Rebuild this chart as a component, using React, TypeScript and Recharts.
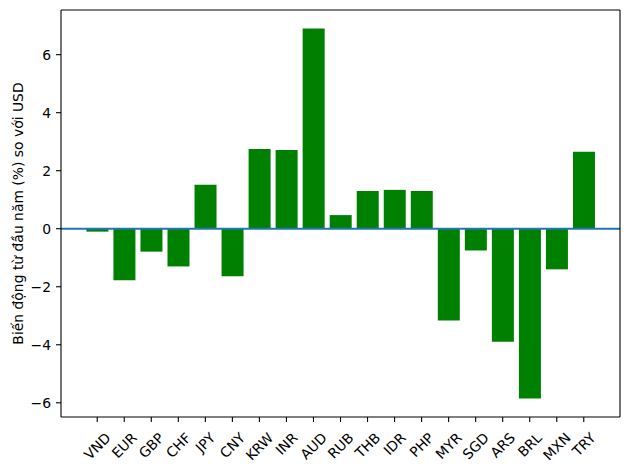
import { Bar, BarChart, Label, ReferenceLine, XAxis, YAxis } from "recharts";

const currencies = ["VND", "EUR", "GBP", "CHF", "JPY", "CNY", "KRW", "INR", "AUD", "RUB", "THB", "IDR", "PHP", "MYR", "SGD", "ARS", "BRL", "MXN", "TRY"];
const ytdChange = [-0.1, -1.78, -0.79, -1.3, 1.52, -1.64, 2.75, 2.71, 6.9, 0.47, 1.3, 1.34, 1.3, -3.16, -0.75, -3.9, -5.85, -1.4, 2.65];
const yTicks = [-6, -4, -2, 0, 2, 4, 6];
const yDomain = [-6.49, 7.54];

const rows = currencies.map((c, i) => ({ name: c, value: ytdChange[i] }));

const FONT = "DejaVu Sans";
const FS = 13.9;
const spine = { stroke: "#000", strokeWidth: 1.1 };

let ctx: CanvasRenderingContext2D | null = null;
function textWidth(s: string): number {
  if (!ctx) ctx = document.createElement("canvas").getContext("2d");
  if (!ctx) return s.length * FS * 0.7;
  ctx.font = `${FS}px "${FONT}"`;
  return ctx.measureText(s).width;
}

// matplotlib-style rotation=45, centred on the tick
function RotatedTick(props: any) {
  const { x, y, payload } = props;
  const label = String(payload.value);
  const w = textWidth(label);
  const h = FS * 1.16;
  const boxH = (w + h) * Math.SQRT1_2;
  const cx = x;
  const cy = y + 7.5 + boxH / 2;
  return (
    <text
      x={cx}
      y={cy}
      textAnchor="middle"
      dominantBaseline="central"
      fontFamily={FONT}
      fontSize={FS}
      fill="#000"
      transform={`rotate(-45 ${cx} ${cy})`}
    >
      {label}
    </text>
  );
}

function YLabel(props: any) {
  const vb = props.viewBox;
  const cx = 17.5;
  const cy = vb.y + vb.height / 2;
  return (
    <text
      x={cx}
      y={cy}
      textAnchor="middle"
      dominantBaseline="central"
      fontFamily={FONT}
      fontSize={FS}
      fill="#000"
      transform={`rotate(-90 ${cx} ${cy})`}
    >
      Biến động từ đầu năm (%) so với USD
    </text>
  );
}

const fmt = (v: number) => (v < 0 ? "\u2212" + Math.abs(v) : String(v));

export default function App() {
  return (
    <div style={{ position: "absolute", left: 0, top: 0, background: "#fff" }}>
      <BarChart
        width={630}
        height={470}
        data={rows}
        margin={{ top: 9, right: 9, left: 0, bottom: 0 }}
        barCategoryGap="10%"
      >
        <XAxis
          dataKey="name"
          height={53}
          interval={0}
          padding={{ left: 22.7, right: 22.7 }}
          tickSize={5}
          tickMargin={0}
          tickLine={spine}
          axisLine={spine}
          tick={<RotatedTick />}
        />
        <XAxis xAxisId="top" orientation="top" dataKey="name" height={1} tick={false} tickLine={false} axisLine={spine} />
        <YAxis
          width={61}
          domain={yDomain}
          ticks={yTicks}
          tickFormatter={fmt}
          tickSize={5}
          tickMargin={5}
          tickLine={spine}
          axisLine={spine}
          tick={{ fill: "#000", fontFamily: FONT, fontSize: FS }}
        >
          <Label content={<YLabel />} />
        </YAxis>
        <YAxis yAxisId="right" orientation="right" width={1} domain={yDomain} tick={false} tickLine={false} axisLine={spine} />
        <Bar dataKey="value" fill="#008000" isAnimationActive={false} />
        <ReferenceLine y={0} stroke="#1f77b4" strokeWidth={2.08} />
      </BarChart>
    </div>
  );
}
